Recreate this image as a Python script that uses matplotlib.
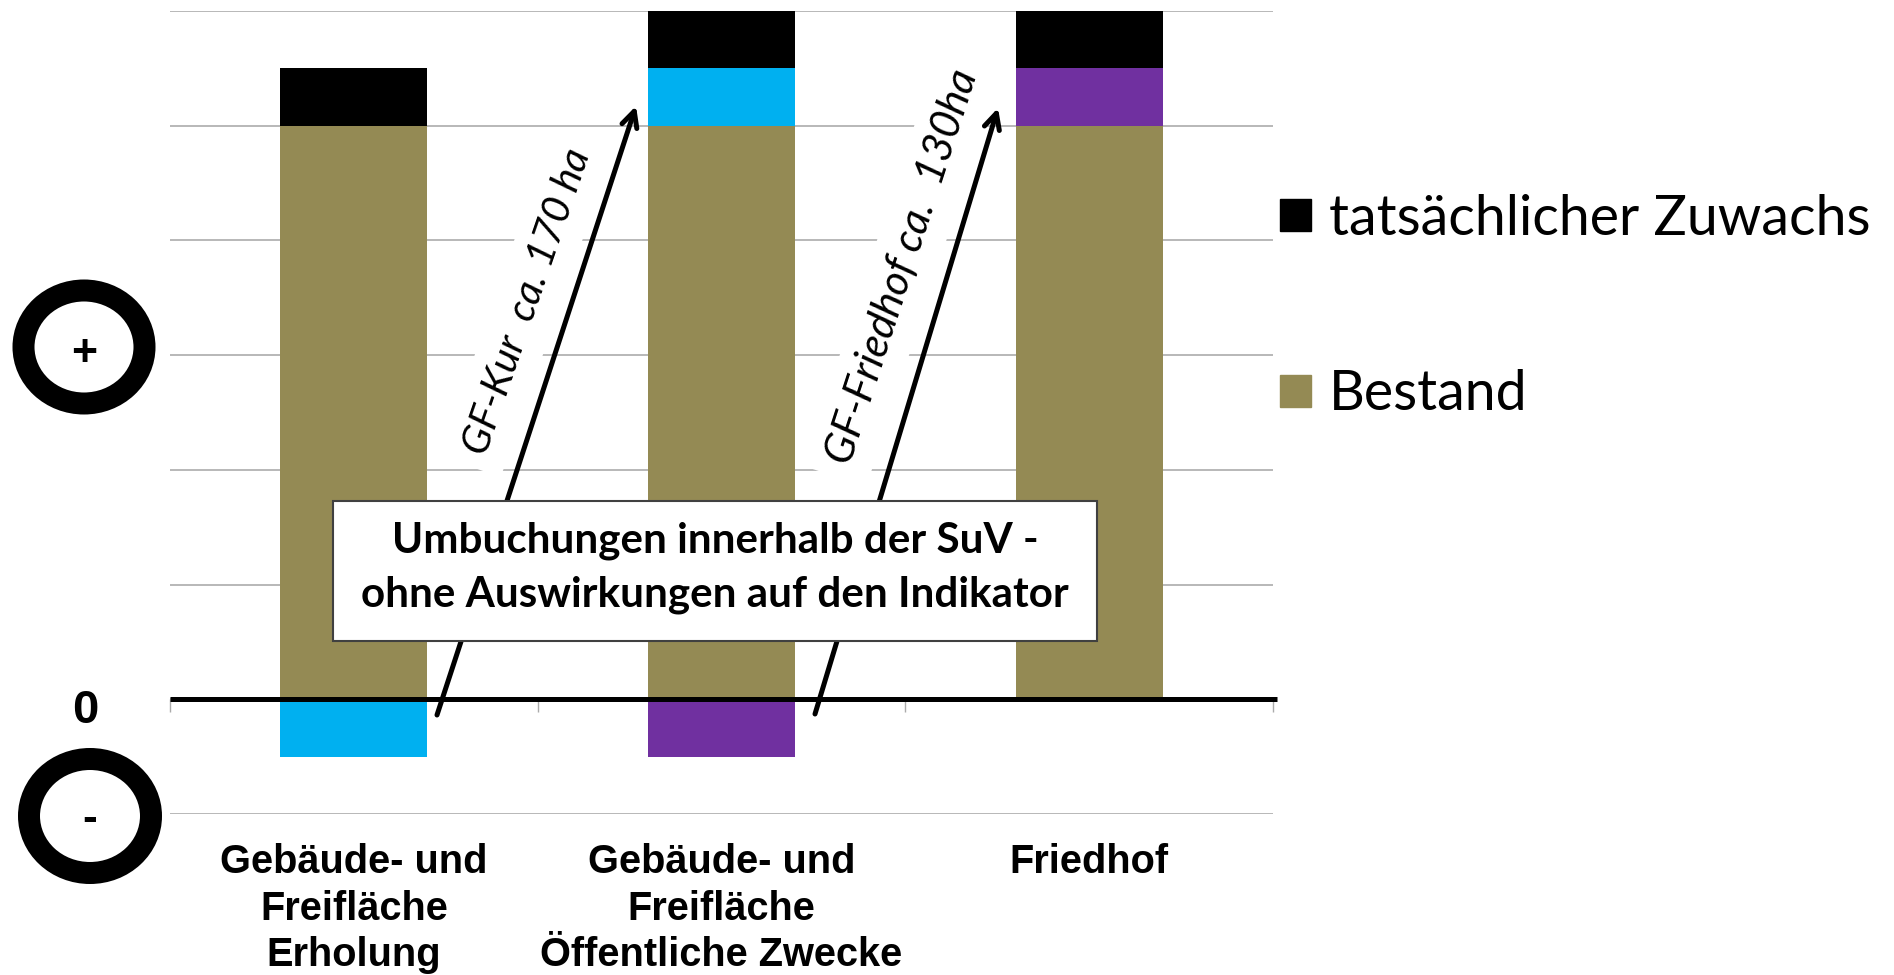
import numpy as np
import matplotlib
matplotlib.use("Agg")
import matplotlib.pyplot as plt
from matplotlib.patches import Ellipse, Rectangle, Patch

W, H = 1894, 975

categories = ["Gebäude- und\nFreifläche\nErholung",
              "Gebäude- und\nFreifläche\nÖffentliche Zwecke",
              "Friedhof"]
bestand = np.array([5.0, 5.0, 5.0])
kur = np.array([-0.5, 0.5, 0.0])
friedhof = np.array([0.0, -0.5, 0.5])
zuwachs = np.array([0.5, 0.5, 0.5])
y_ticks = [-1, 0, 1, 2, 3, 4, 5, 6]

OLIVE = "#948A54"
BLUE = "#00B0F0"
PURPLE = "#7030A0"
GRID = "#ABABAB"


def fx(px):
    return px / W


def fy(py):
    return 1 - py / H


def px_to_pt(px):
    return px * 72 / 100


def ring(fig, cx, cy, w, h, thick, sign, sign_y):
    fig.add_artist(Ellipse((fx(cx), fy(cy)), w / W, h / H, transform=fig.transFigure,
                           fc="white", ec="black", lw=px_to_pt(thick)))
    fig.text(fx(cx), fy(sign_y), sign, ha="center", va="center", fontsize=32,
             fontweight="bold", family="Liberation Sans")


def plot_chart():
    fig = plt.figure(figsize=(W / 100, H / 100), dpi=100)
    ax = fig.add_axes([fx(170), fy(814), fx(1273) - fx(170), (814 - 11) / H])

    x = np.arange(len(categories)) + 0.5
    width = 0.4

    ax.bar(x, bestand, width, color=OLIVE, zorder=3)
    ax.bar(x, kur, width, bottom=np.where(kur > 0, bestand, 0), color=BLUE, zorder=3)
    ax.bar(x, friedhof, width, bottom=np.where(friedhof > 0, bestand, 0), color=PURPLE, zorder=3)
    top = bestand + np.clip(kur, 0, None) + np.clip(friedhof, 0, None)
    ax.bar(x, zuwachs, width, bottom=top, color="black", zorder=3)

    ax.set_xlim(0, 3)
    ax.set_ylim(-1, 6)
    ax.set_yticks(y_ticks)
    ax.set_yticklabels([])
    ax.tick_params(axis="y", length=0)
    ax.grid(True, axis="y", color=GRID, lw=1.2, zorder=1)
    ax.set_axisbelow(True)

    for name in ["top", "left", "right"]:
        ax.spines[name].set_visible(False)
    ax.spines["bottom"].set_position(("data", 0))
    ax.spines["bottom"].set_visible(False)
    ax.axhline(0, xmin=0, xmax=1.004, color="black", lw=px_to_pt(5), zorder=4, clip_on=False,
               solid_capstyle="butt")

    ax.set_xticks([0, 1, 2, 3])
    ax.set_xticklabels([])
    ax.set_xticks(x, minor=True)
    ax.set_xticklabels(categories, minor=True, fontsize=28.6, fontweight="bold",
                       family="Liberation Sans", linespacing=1.28, va="top")
    ax.tick_params(axis="x", which="major", length=px_to_pt(13), color=GRID, width=1)
    ax.tick_params(axis="x", which="minor", length=0, pad=px_to_pt(144))

    # rotated notes, the white background cuts the grid lines
    note_box = dict(fc="white", ec="none", pad=10)
    fig_text = dict(transform=fig.transFigure, ha="center", va="center", family="Lato",
                    style="italic", zorder=2, rotation_mode="anchor")
    ax.text(fx(527), fy(302), "GF-Kur  ca. 170 ha", rotation=71, fontsize=29, bbox=note_box, **fig_text)
    ax.text(fx(903), fy(267), "GF-Friedhof ca.  130ha", rotation=72, fontsize=30.5, bbox=note_box, **fig_text)

    arrow = dict(arrowstyle="->", color="black", lw=px_to_pt(5), mutation_scale=28,
                 shrinkA=0, shrinkB=0)
    for start, tip in [((437, 715), (636, 106)), ((815, 714), (998, 108))]:
        ax.annotate("", xy=(fx(tip[0]), fy(tip[1])), xytext=(fx(start[0]), fy(start[1])),
                    xycoords="figure fraction", textcoords="figure fraction",
                    arrowprops=arrow, zorder=5)

    # text box over the bars
    ax.add_patch(Rectangle((fx(333), fy(641)), (1097 - 333) / W, 140 / H, transform=fig.transFigure,
                           fc="white", ec="#404040", lw=1.5, zorder=6, clip_on=False))
    ax.text(fx(715), fy(568), "Umbuchungen innerhalb der SuV -\nohne Auswirkungen auf den Indikator",
            transform=fig.transFigure, ha="center", va="center", family="Lato",
            fontweight="bold", fontsize=30.3, linespacing=1.5, zorder=7)

    ring(fig, 84, 347, 121, 113, 22, "+", 355)
    ring(fig, 90, 816, 122, 114, 22, "-", 819)
    fig.text(fx(85), fy(711), "0", ha="center", va="center", fontsize=34,
             fontweight="bold", family="Liberation Sans")

    handles = [Patch(color="black", label="tatsächlicher Zuwachs"),
               Patch(color=OLIVE, label="Bestand")]
    ax.legend(handles=handles, loc="upper left", bbox_to_anchor=(fx(1280), fy(194)),
              bbox_transform=fig.transFigure, frameon=False, borderpad=0, borderaxespad=0,
              prop={"family": "Lato", "size": 40}, handlelength=0.55, handleheight=0.5,
              handletextpad=0.33, labelspacing=2.24)

    fig.savefig("out.png", dpi=100)


def main():
    plot_chart()


if __name__ == "__main__":
    main()
